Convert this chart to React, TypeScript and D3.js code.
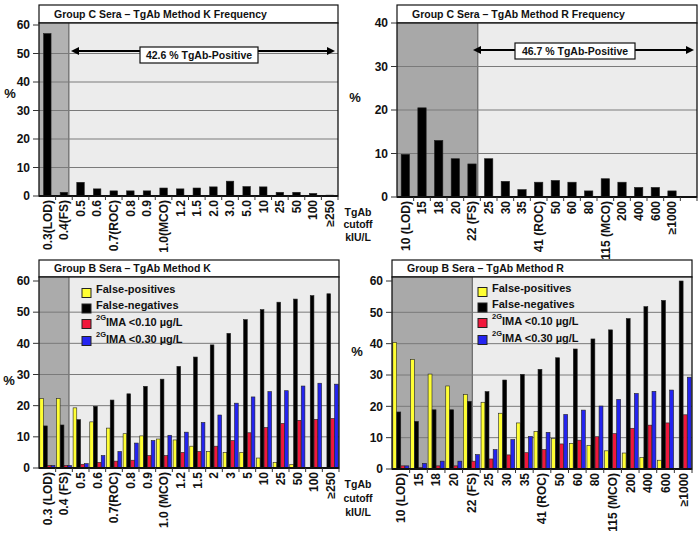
import React from 'react';
import * as d3 from 'd3';

const W = 700;
const H = 533;
const FONT = '"Liberation Sans", Arial, Helvetica, sans-serif';

// Group C sera, method K frequency
const kFreqCats = ['0.3(LOD)', '0.4(FS)', '0.5', '0.6', '0.7(ROC)', '0.8', '0.9', '1.0(MCO)', '1.2', '1.5', '2.0', '3.0', '5.0', '10', '25', '50', '100', '≥250'];
const kFreqValues = [57, 1.3, 4.8, 2.5, 1.8, 1.8, 1.8, 2.8, 2.5, 2.8, 3.2, 5.2, 3.3, 3.2, 1.3, 1.3, 0.9, 0.3];
const kFreqTicks = [0, 10, 20, 30, 40, 50, 60];

// Group C sera, method R frequency
const rFreqCats = ['10 (LOD)', '15', '18', '20', '22 (FS)', '25', '30', '35', '41 (ROC)', '50', '60', '80', '115 (MCO)', '200', '400', '600', '≥1000'];
const rFreqValues = [9.8, 20.5, 13, 8.8, 7.6, 8.8, 3.6, 1.7, 3.4, 3.8, 3.4, 1.4, 4.2, 3.4, 2.2, 2.2, 1.4];
const rFreqTicks = [0, 10, 20, 30, 40];

// Group B sera, method K
const kCats = ['0.3 (LOD)', '0.4 (FS)', '0.5', '0.6', '0.7(ROC)', '0.8', '0.9', '1.0 (MCO)', '1.2', '1.5', '2', '3', '5', '10', '25', '50', '100', '≥250'];
const kFalsePos = [22.3, 22.3, 19.3, 14.8, 12.8, 11, 10.3, 9.3, 9, 7, 5.3, 5, 5, 3.2, 1.8, 1.1, 0, 0];
const kFalseNeg = [13.5, 13.8, 15.5, 19.8, 21.8, 23.8, 26.2, 28.5, 32.6, 35.6, 39.5, 43.2, 47.6, 50.8, 53.2, 54.2, 55.3, 55.9];
const kIma010 = [0.8, 0.8, 1.2, 1.8, 2.2, 2.5, 4, 4, 5, 5.3, 7, 8.8, 11.3, 13, 14.3, 15.3, 15.6, 15.9];
const kIma030 = [0.8, 0.8, 1.4, 4, 5.3, 8, 8.8, 10.5, 11.5, 14.6, 17, 20.8, 22.8, 24.5, 24.8, 26.3, 27.2, 26.9];

// Group B sera, method R
const rCats = ['10 (LOD)', '15', '18', '20', '22 (FS)', '25', '30', '35', '41 (ROC)', '50', '60', '80', '115 (MCO)', '200', '400', '600', '≥1000'];
const rFalsePos = [40.4, 35, 30.3, 26.5, 23.8, 21.3, 17.8, 14.7, 12, 9.7, 8.2, 7.5, 5.8, 5.1, 3.7, 2.8, 0];
const rFalseNeg = [18.2, 15.2, 18.9, 18.9, 21.6, 24.7, 28.4, 30.2, 31.8, 35.5, 38.3, 41.5, 44.4, 48, 51.8, 53.8, 60];
const rIma010 = [1, 0.5, 1, 1, 2.5, 3.2, 4.5, 5.2, 6.2, 8, 9.2, 10.3, 11.3, 13, 14, 14.7, 17.3];
const rIma030 = [1, 1.8, 2.5, 2.5, 4.6, 6.2, 9.4, 10.4, 11.7, 17.4, 18.8, 20.1, 22.2, 24.1, 24.8, 25.2, 29.3];
const bTicks = [0, 10, 20, 30, 40, 50, 60];

const seriesColors = ['#ffff33', '#000000', '#f0183c', '#2424f0'];
const legendMain = ['False-positives', 'False-negatives', 'IMA <0.10 µg/L', 'IMA <0.30 µg/L'];
const legendSup = ['', '', '2G', '2G'];
const cutoffLines = ['TgAb', 'cutoff', 'kIU/L'];

type Box = { left: number; right: number; titleTop: number; plotTop: number; yTop: number; y0: number };

type PanelProps = {
  box: Box;
  title: string;
  cats: string[];
  series: number[][];
  colors: string[];
  yMax: number;
  ticks: number[];
  blanks: number;
  greyIdx: number;
  greyFrac: number;
  greyFill: string;
  barFrac?: number;
  pct: { x: number; y: number };
  note?: { text: string; cx: number; w: number; y: number; boxDy: number; x0: number };
  legend?: { x: number; y: number };
  cutoff?: { x: number; y: number; gap: number };
};

function Panel(p: PanelProps) {
  const { box } = p;
  const keys = [...p.cats, ...d3.range(p.blanks).map((i) => `__blank${i}`)];
  const x = d3.scaleBand<string>().domain(keys).range([box.left, box.right]);
  const y = d3.scaleLinear().domain([0, p.yMax]).range([box.y0, box.yTop]);
  const bw = x.bandwidth();
  const greyEnd = (x(p.cats[p.greyIdx]) as number) + bw * p.greyFrac;
  const sub = d3.scaleBand<number>().domain(d3.range(p.series.length)).range([0, bw]).paddingOuter(0.2).paddingInner(0.04);

  const bars: JSX.Element[] = [];
  p.cats.forEach((c, i) => {
    const bx = x(c) as number;
    p.series.forEach((s, j) => {
      const v = s[i];
      if (!v) return;
      let xx: number, ww: number;
      if (p.series.length === 1) {
        ww = bw * (p.barFrac ?? 0.45);
        xx = bx + (bw - ww) / 2;
      } else {
        ww = sub.bandwidth();
        xx = bx + (sub(j) as number);
      }
      bars.push(
        <rect key={`${i}-${j}`} x={xx} y={y(v)} width={ww} height={box.y0 - y(v)}
          fill={p.colors[j]} stroke="#222" strokeWidth={0.6} />
      );
    });
  });

  const arrow = (tipX: number, ty: number, dir: number) =>
    `M${tipX},${ty} L${tipX - dir * 8},${ty - 4} L${tipX - dir * 8},${ty + 4} Z`;

  return (
    <g fontFamily={FONT} fontWeight="bold">
      {/* title box */}
      <rect x={box.left} y={box.titleTop} width={box.right - box.left} height={box.plotTop - box.titleTop}
        fill="#fff" stroke="#111" strokeWidth={1.2} />
      <text x={box.left + 15} y={(box.titleTop + box.plotTop) / 2} dy="0.36em" fontSize={10.5} fill="#111">{p.title}</text>

      {/* plot background */}
      <rect x={box.left} y={box.plotTop} width={box.right - box.left} height={box.y0 - box.plotTop} fill="#ececec" />
      <rect x={box.left} y={box.plotTop} width={greyEnd - box.left} height={box.y0 - box.plotTop} fill={p.greyFill} />
      <line x1={greyEnd} x2={greyEnd} y1={box.plotTop} y2={box.y0} stroke="#555" strokeWidth={1} />

      {/* gridlines */}
      {p.ticks.filter((t) => t > 0 && t < p.yMax).map((t) => (
        <line key={t} x1={box.left} x2={box.right} y1={y(t)} y2={y(t)} stroke="#7a7a7a" strokeWidth={1} />
      ))}

      {bars}

      {/* frame */}
      <rect x={box.left} y={box.plotTop} width={box.right - box.left} height={box.y0 - box.plotTop}
        fill="none" stroke="#111" strokeWidth={1.3} />
      <line x1={box.left} x2={box.right} y1={box.y0} y2={box.y0} stroke="#111" strokeWidth={2} />

      {/* y axis */}
      {p.ticks.map((t) => (
        <g key={t}>
          <line x1={box.left - 6} x2={box.left} y1={y(t)} y2={y(t)} stroke="#333" />
          <text x={box.left - 9} y={y(t)} dy="0.36em" textAnchor="end" fontSize={12} fill="#111">{t}</text>
        </g>
      ))}
      <text x={p.pct.x} y={p.pct.y} dy="0.36em" textAnchor="middle" fontSize={13} fill="#111">%</text>

      {/* x axis */}
      {keys.map((k) => (
        <line key={k} x1={(x(k) as number) + bw} x2={(x(k) as number) + bw} y1={box.y0} y2={box.y0 + 4} stroke="#333" />
      ))}
      {p.cats.map((c) => (
        <text key={c} transform={`translate(${(x(c) as number) + bw / 2},${box.y0 + 4}) rotate(-90)`}
          textAnchor="end" dy="0.36em" fontSize={12} fill="#111">{c}</text>
      ))}

      {p.note && (
        <g>
          <line x1={p.note.x0 + 6} x2={box.right - 8} y1={p.note.y} y2={p.note.y} stroke="#000" strokeWidth={2.2} />
          <path d={arrow(p.note.x0, p.note.y, -1)} fill="#000" />
          <path d={arrow(box.right - 3, p.note.y, 1)} fill="#000" />
          <rect x={p.note.cx - p.note.w / 2} y={p.note.y + p.note.boxDy - 8} width={p.note.w} height={16}
            fill="#fff" stroke="#111" strokeWidth={1.2} />
          <text x={p.note.cx} y={p.note.y + p.note.boxDy} dy="0.36em" textAnchor="middle" fontSize={10.5} fill="#111">{p.note.text}</text>
        </g>
      )}

      {p.legend && legendMain.map((l, i) => {
        const ly = p.legend!.y + i * 15.5 + (i === 3 ? 1.5 : 0);
        return (
          <g key={l}>
            <rect x={p.legend!.x} y={ly - 4.5} width={9} height={9} fill={seriesColors[i]} stroke="#222" strokeWidth={1} />
            <text x={p.legend!.x + 14} y={ly} dy="0.36em" fontSize={11} fill="#111">
              {legendSup[i] && <tspan fontSize={7.5} dy="-0.5em">{legendSup[i]}</tspan>}
              <tspan dy={legendSup[i] ? '0.5em' : 0}>{l}</tspan>
            </text>
          </g>
        );
      })}

      {p.cutoff && cutoffLines.map((t, i) => (
        <text key={t} x={p.cutoff!.x} y={p.cutoff!.y + i * p.cutoff!.gap} dy="0.36em" textAnchor="middle" fontSize={10.5} fill="#111">{t}</text>
      ))}
    </g>
  );
}

export default function App() {
  return (
    <svg width={W} height={H} viewBox={`0 0 ${W} ${H}`} style={{ position: 'absolute', left: 0, top: 0, background: '#fff' }}>
      <Panel
        box={{ left: 39, right: 338, titleTop: 5, plotTop: 23, yTop: 25, y0: 196 }}
        title="Group C Sera – TgAb Method K Frequency"
        cats={kFreqCats} series={[kFreqValues]} colors={['#000']}
        yMax={60} ticks={kFreqTicks} blanks={0}
        greyIdx={1} greyFrac={0.8} greyFill="#b2b2b2" barFrac={0.45}
        pct={{ x: 10, y: 93 }}
        note={{ text: '42.6 % TgAb-Positive', cx: 199, w: 118, y: 51, boxDy: 4, x0: 71 }}
        cutoff={{ x: 358, y: 212, gap: 12.5 }}
      />
      <Panel
        box={{ left: 397, right: 697, titleTop: 5, plotTop: 23, yTop: 23, y0: 197 }}
        title="Group C Sera – TgAb Method R Frequency"
        cats={rFreqCats} series={[rFreqValues]} colors={['#000']}
        yMax={40} ticks={rFreqTicks} blanks={1}
        greyIdx={4} greyFrac={0.85} greyFill="#a8a8a8" barFrac={0.5}
        pct={{ x: 355, y: 97 }}
        note={{ text: '46.7 % TgAb-Positive', cx: 575, w: 120, y: 50, boxDy: 1, x0: 473 }}
      />
      <Panel
        box={{ left: 39, right: 339, titleTop: 260, plotTop: 277, yTop: 281, y0: 468 }}
        title="Group B Sera – TgAb Method K"
        cats={kCats} series={[kFalsePos, kFalseNeg, kIma010, kIma030]} colors={seriesColors}
        yMax={60} ticks={bTicks} blanks={0}
        greyIdx={1} greyFrac={0.8} greyFill="#ababab"
        pct={{ x: 9, y: 380 }}
        legend={{ x: 82, y: 293 }}
        cutoff={{ x: 358, y: 484, gap: 14 }}
      />
      <Panel
        box={{ left: 392, right: 692, titleTop: 260, plotTop: 277, yTop: 281, y0: 469 }}
        title="Group B Sera – TgAb Method R"
        cats={rCats} series={[rFalsePos, rFalseNeg, rIma010, rIma030]} colors={seriesColors}
        yMax={60} ticks={bTicks} blanks={0}
        greyIdx={4} greyFrac={0.55} greyFill="#a9a9a9"
        pct={{ x: 357, y: 351 }}
        legend={{ x: 478, y: 292 }}
      />
    </svg>
  );
}
